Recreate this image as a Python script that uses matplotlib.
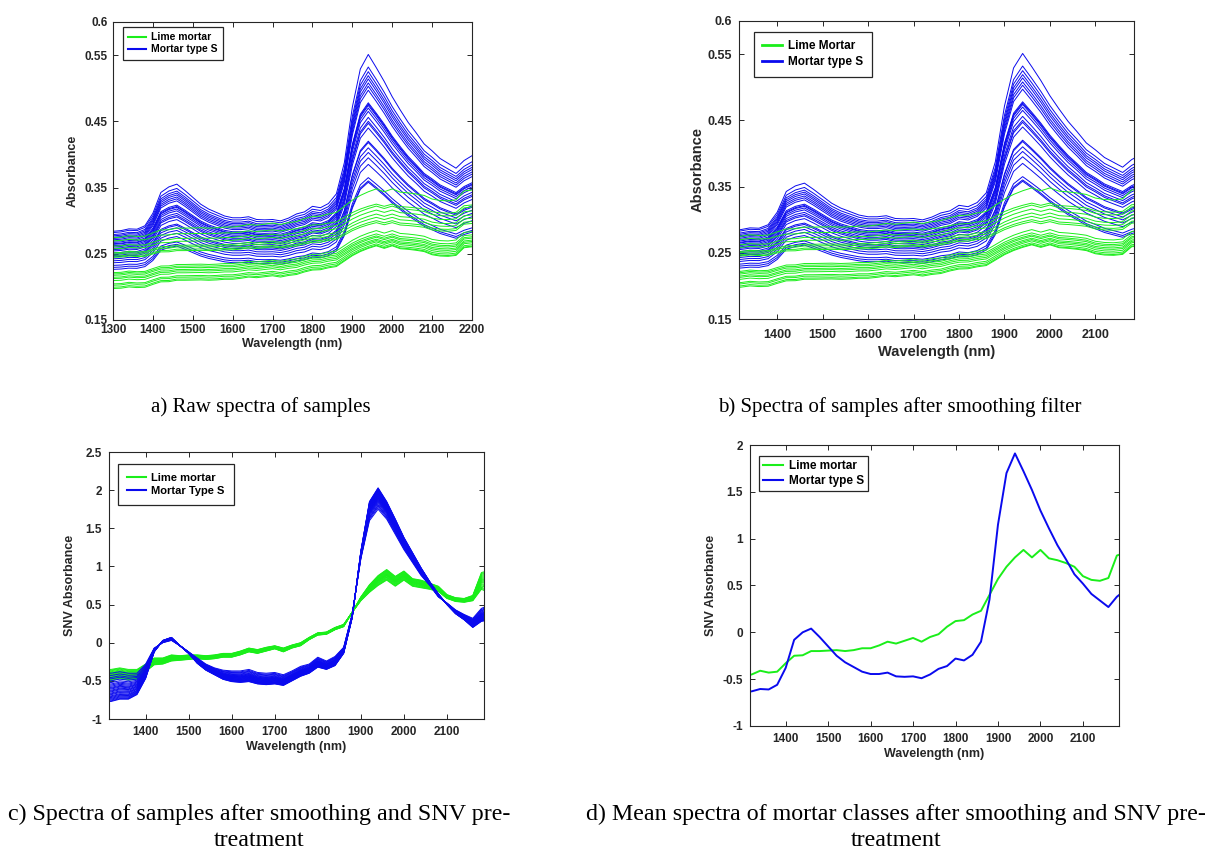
#!/usr/bin/env python3
# -*- coding: utf8 -*-
"""
    NIR spectra of mortar samples: raw, smoothed, SNV and class means.
"""

import numpy as np
import matplotlib
matplotlib.use('Agg')
import matplotlib.pyplot as plt

GREEN = '#1aee1a'
BLUE = '#0a0aee'
INK = '#262626'

# wavelength grid the curves were read on (nm)
WAVELENGTH = list(range(1300, 2201, 20))

# d) class means after smoothing + SNV
LIME_MEAN = [-0.46, -0.45, -0.41, -0.43, -0.42, -0.33, -0.25, -0.245, -0.20, -0.20,
             -0.195, -0.19, -0.20, -0.19, -0.17, -0.17, -0.14, -0.10, -0.12, -0.09,
             -0.06, -0.10, -0.05, -0.02, 0.06, 0.12, 0.13, 0.19, 0.23, 0.40,
             0.57, 0.70, 0.80, 0.88, 0.80, 0.88, 0.79, 0.77, 0.74, 0.70,
             0.60, 0.56, 0.55, 0.58, 0.82, 0.85]
TYPE_S_MEAN = [-0.64, -0.63, -0.605, -0.61, -0.56, -0.38, -0.08, 0.00, 0.04, -0.05,
               -0.15, -0.25, -0.32, -0.37, -0.42, -0.445, -0.445, -0.43, -0.47, -0.475,
               -0.47, -0.49, -0.45, -0.39, -0.36, -0.28, -0.30, -0.24, -0.10, 0.35,
               1.15, 1.70, 1.91, 1.72, 1.52, 1.30, 1.11, 0.93, 0.78, 0.62,
               0.52, 0.41, 0.34, 0.27, 0.38, 0.45]

# c) the two extreme SNV spectra of each class
LIME_EDGE_A = [-0.35, -0.35, -0.33, -0.35, -0.35, -0.28, -0.20, -0.20, -0.16, -0.17,
               -0.16, -0.16, -0.17, -0.16, -0.14, -0.14, -0.11, -0.07, -0.09, -0.06,
               -0.04, -0.07, -0.03, 0.00, 0.07, 0.13, 0.14, 0.20, 0.24, 0.40,
               0.55, 0.66, 0.75, 0.82, 0.74, 0.82, 0.74, 0.72, 0.70, 0.67,
               0.58, 0.54, 0.53, 0.55, 0.70, 0.65]
LIME_EDGE_B = [-0.50, -0.50, -0.47, -0.49, -0.48, -0.38, -0.29, -0.28, -0.24, -0.23,
               -0.22, -0.21, -0.22, -0.21, -0.19, -0.19, -0.16, -0.12, -0.14, -0.11,
               -0.08, -0.12, -0.07, -0.04, 0.04, 0.10, 0.11, 0.17, 0.21, 0.40,
               0.60, 0.76, 0.88, 0.96, 0.87, 0.94, 0.84, 0.82, 0.78, 0.74,
               0.63, 0.59, 0.58, 0.62, 0.92, 0.95]
TYPE_S_EDGE_A = [-0.40, -0.40, -0.38, -0.40, -0.40, -0.28, -0.07, 0.00, 0.03, -0.04,
                 -0.12, -0.20, -0.28, -0.33, -0.36, -0.37, -0.37, -0.35, -0.39, -0.40,
                 -0.39, -0.42, -0.37, -0.31, -0.28, -0.19, -0.24, -0.18, -0.06, 0.38,
                 1.10, 1.60, 1.75, 1.62, 1.42, 1.22, 1.05, 0.88, 0.75, 0.60,
                 0.52, 0.43, 0.37, 0.32, 0.45, 0.50]
TYPE_S_EDGE_B = [-0.77, -0.77, -0.74, -0.74, -0.68, -0.47, -0.12, 0.03, 0.07, -0.04,
                 -0.14, -0.27, -0.36, -0.42, -0.48, -0.51, -0.52, -0.51, -0.54, -0.55,
                 -0.54, -0.56, -0.50, -0.44, -0.40, -0.32, -0.35, -0.30, -0.14, 0.33,
                 1.20, 1.85, 2.03, 1.85, 1.62, 1.38, 1.18, 0.98, 0.80, 0.64,
                 0.50, 0.38, 0.30, 0.20, 0.28, 0.30]

# where each sample sits between edge A (0) and edge B (1)
LIME_POS = [0.0, 0.06, 0.12, 0.2, 0.27, 0.33, 0.4, 0.45, 0.5,
            0.55, 0.6, 0.66, 0.72, 0.78, 0.84, 0.9, 0.95, 1.0]
TYPE_S_POS = [0.0, 0.08, 0.15, 0.2, 0.27, 0.33, 0.38, 0.42, 0.46, 0.5, 0.53, 0.56, 0.6,
              0.63, 0.66, 0.7, 0.73, 0.76, 0.8, 0.83, 0.86, 0.89, 0.92, 0.95, 0.98, 1.0]

# a/b) absorbance of each sample at 1320 nm and at the water band peak
LIME_BASE = [0.275, 0.270, 0.262, 0.258, 0.252, 0.250, 0.247, 0.245, 0.222,
             0.220, 0.218, 0.215, 0.213, 0.210, 0.205, 0.203, 0.200, 0.198]
LIME_PEAK = [0.348, 0.325, 0.322, 0.316, 0.310, 0.305, 0.300, 0.297, 0.285,
             0.280, 0.277, 0.275, 0.272, 0.270, 0.268, 0.265, 0.263, 0.262]
TYPE_S_BASE = [0.285, 0.283, 0.280, 0.278, 0.276, 0.274, 0.272, 0.270, 0.268,
               0.266, 0.265, 0.263, 0.261, 0.259, 0.257, 0.255, 0.252, 0.250,
               0.248, 0.246, 0.243, 0.240, 0.237, 0.233, 0.230, 0.227]
TYPE_S_PEAK = [0.551, 0.532, 0.525, 0.519, 0.514, 0.508, 0.503, 0.497, 0.478,
               0.476, 0.474, 0.470, 0.465, 0.456, 0.450, 0.447, 0.440, 0.420,
               0.418, 0.410, 0.403, 0.395, 0.385, 0.365, 0.360, 0.358]

LIME_PEAK_NM = 1960
TYPE_S_PEAK_NM = 1940

CAPTIONS = ['a) Raw spectra of samples',
            'b) Spectra of samples after smoothing filter',
            'c) Spectra of samples after smoothing and SNV pre-\ntreatment',
            'd) Mean spectra of mortar classes after smoothing and SNV pre-\ntreatment']

W, H = 1211, 851


def snv_samples(edge_a, edge_b, positions):
    a, b = np.array(edge_a), np.array(edge_b)
    return [a + t * (b - a) for t in positions]


def raw_samples(shape, bases, peaks, peak_nm):
    # class mean shape stretched to each sample's level at 1320 nm and at the peak
    wl = np.array(WAVELENGTH)
    s = np.array(shape)
    i0 = np.argmin(np.abs(wl - 1320))
    ip = np.argmin(np.abs(wl - peak_nm))
    out = []
    for lo, hi in zip(bases, peaks):
        scale = (hi - lo) / (s[ip] - s[i0])
        out.append(lo + (s - s[i0]) * scale)
    return out


def px_axes(fig, left, right, top, bottom):
    return fig.add_axes([left / W, 1 - bottom / H, (right - left) / W, (bottom - top) / H])


def style_axes(ax, fs, xpad=3, ypad=4):
    ax.tick_params(direction='in', top=True, right=True, length=3.5, width=0.7,
                   labelsize=fs, colors=INK)
    ax.tick_params(axis='x', pad=xpad)
    ax.tick_params(axis='y', pad=ypad)
    for lab in ax.get_xticklabels() + ax.get_yticklabels():
        lab.set_fontweight('bold')
    for sp in ax.spines.values():
        sp.set_linewidth(0.8)
        sp.set_color(INK)


def set_labels(ax, ylabel, fs, xpad, ypad):
    ax.set_xlabel('Wavelength (nm)', fontsize=fs, fontweight='bold', labelpad=xpad, color=INK)
    ax.set_ylabel(ylabel, fontsize=fs, fontweight='bold', labelpad=ypad, color=INK)


def add_legend(ax, lines, labels, anchor, fs, lw, bpad=0.6, lsp=0.25):
    leg = ax.legend(lines, labels, loc='upper left', bbox_to_anchor=anchor,
                    borderaxespad=0, fancybox=False, edgecolor=INK, framealpha=1,
                    prop={'weight': 'bold', 'size': fs}, handlelength=1.7,
                    borderpad=bpad, labelspacing=lsp, handletextpad=0.5)
    leg.get_frame().set_linewidth(0.9)
    for ln in leg.get_lines():
        ln.set_linewidth(lw)


def plot_spectra(ax, lime, type_s, lw, blue_on_top=True):
    wl = np.array(WAVELENGTH)
    order = [(lime, GREEN), (type_s, BLUE)]
    if not blue_on_top:
        order = order[::-1]
    handles = {}
    for curves, col in order:
        for c in curves:
            handles[col], = ax.plot(wl, c, color=col, lw=lw)
    return handles[GREEN], handles[BLUE]


def main():
    plt.rcParams['font.family'] = ['Liberation Sans', 'DejaVu Sans']
    fig = plt.figure(figsize=(W / 100, H / 100), dpi=100)

    lime_snv = snv_samples(LIME_EDGE_A, LIME_EDGE_B, LIME_POS)
    type_s_snv = snv_samples(TYPE_S_EDGE_A, TYPE_S_EDGE_B, TYPE_S_POS)
    lime_raw = raw_samples(LIME_MEAN, LIME_BASE, LIME_PEAK, LIME_PEAK_NM)
    type_s_raw = raw_samples(TYPE_S_MEAN, TYPE_S_BASE, TYPE_S_PEAK, TYPE_S_PEAK_NM)

    abs_ticks = [0.15, 0.25, 0.35, 0.45, 0.55, 0.6]
    abs_labels = ['0.15', '0.25', '0.35', '0.45', '0.55', '0.6']

    # a) raw
    ax = px_axes(fig, 113, 472, 22, 320)
    g, b = plot_spectra(ax, lime_raw, type_s_raw, 0.7, blue_on_top=False)
    ax.set_xlim(1300, 2200)
    ax.set_ylim(0.15, 0.6)
    ax.set_xticks(range(1300, 2201, 100))
    ax.set_yticks(abs_ticks, abs_labels)
    set_labels(ax, 'Absorbance', 9, 1, 4)
    style_axes(ax, 8.5, xpad=3, ypad=4)
    add_legend(ax, [g, b], ['Lime mortar', 'Mortar type S'], (0.028, 0.983), 7.5, 1.5,
               bpad=0.5, lsp=0.2)

    # b) smoothed
    ax = px_axes(fig, 739, 1134, 21, 319)
    g, b = plot_spectra(ax, lime_raw, type_s_raw, 0.7, blue_on_top=False)
    ax.set_xlim(1316, 2185)
    ax.set_ylim(0.15, 0.6)
    ax.set_xticks(range(1400, 2101, 100))
    ax.set_yticks(abs_ticks, abs_labels)
    set_labels(ax, 'Absorbance', 10.5, 3, 2)
    style_axes(ax, 9, xpad=7, ypad=5)
    add_legend(ax, [g, b], ['Lime Mortar', 'Mortar type S'], (0.038, 0.963), 8.5, 2,
               bpad=0.7, lsp=0.35)

    # c) SNV
    ax = px_axes(fig, 109, 484, 452, 719)
    g, b = plot_spectra(ax, lime_snv, type_s_snv, 0.7)
    ax.set_xlim(1315, 2186)
    ax.set_ylim(-1, 2.5)
    ax.set_xticks(range(1400, 2101, 100))
    ax.set_yticks(np.arange(-1, 2.51, 0.5), ['-1', '-0.5', '0', '0.5', '1', '1.5', '2', '2.5'])
    set_labels(ax, 'SNV Absorbance', 9, 2, 4)
    style_axes(ax, 8.5, xpad=5, ypad=5)
    add_legend(ax, [g, b], ['Lime mortar', 'Mortar Type S'], (0.024, 0.955), 8, 1.5,
               bpad=0.8, lsp=0.3)

    # d) class means
    ax = px_axes(fig, 750, 1119, 445, 726)
    g, = ax.plot(WAVELENGTH, LIME_MEAN, color=GREEN, lw=1.4)
    b, = ax.plot(WAVELENGTH, TYPE_S_MEAN, color=BLUE, lw=1.4)
    ax.set_xlim(1316, 2185)
    ax.set_ylim(-1, 2)
    ax.set_xticks(range(1400, 2101, 100))
    ax.set_yticks(np.arange(-1, 2.01, 0.5), ['-1', '-0.5', '0', '0.5', '1', '1.5', '2'])
    set_labels(ax, 'SNV Absorbance', 9, 2, 4)
    style_axes(ax, 8.5, xpad=5, ypad=5)
    add_legend(ax, [g, b], ['Lime mortar', 'Mortar type S'], (0.024, 0.96), 8.5, 1.5,
               bpad=0.35, lsp=0.2)

    # captions under the panels
    cap = dict(family=['Liberation Serif', 'DejaVu Serif'], ha='center', va='center')
    fig.text(261 / W, 1 - 407 / H, CAPTIONS[0], fontsize=15, **cap)
    fig.text(900 / W, 1 - 407 / H, CAPTIONS[1], fontsize=15, **cap)
    fig.text(259 / W, 1 - 827 / H, CAPTIONS[2], fontsize=17.3, linespacing=1.32, **cap)
    fig.text(896 / W, 1 - 827 / H, CAPTIONS[3], fontsize=17.3, linespacing=1.32, **cap)

    fig.savefig('out.png', dpi=100)


if __name__ == '__main__':
    main()
